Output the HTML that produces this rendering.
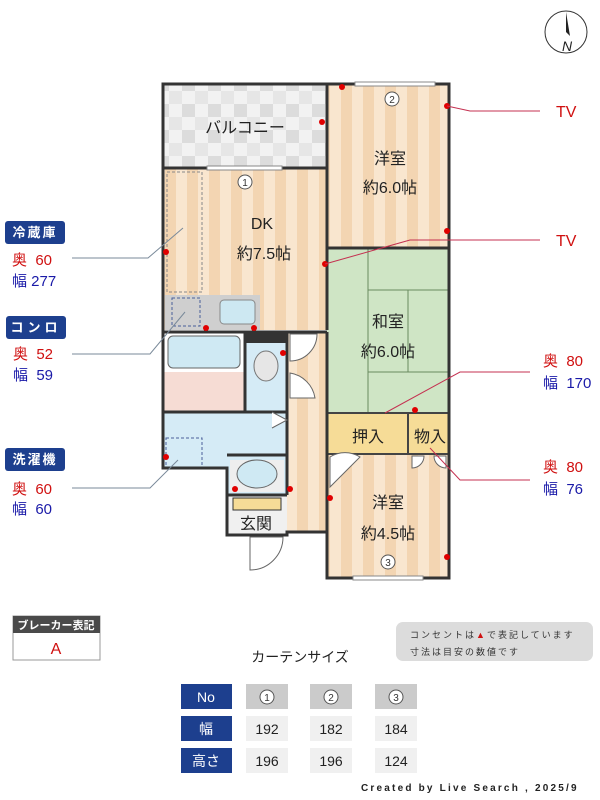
<!DOCTYPE html>
<html><head><meta charset="utf-8"><style>
body{margin:0;background:#fff;width:600px;height:800px;overflow:hidden}
svg{display:block}
text{font-family:"Liberation Sans","Noto Sans CJK JP",sans-serif}
</style></head><body>
<svg width="600" height="800" viewBox="0 0 600 800" xmlns="http://www.w3.org/2000/svg">
<defs>
<pattern id="wood" width="22" height="10" patternUnits="userSpaceOnUse">
<rect width="22" height="10" fill="#f9e6cf"/><rect x="11" width="11" height="10" fill="#f3d5b2"/>
</pattern>
<pattern id="tile" width="26" height="26" patternUnits="userSpaceOnUse">
<rect width="26" height="26" fill="#f2f2f2"/><rect width="13" height="13" fill="#dcdcdc"/><rect x="13" y="13" width="13" height="13" fill="#e6e6e6"/>
</pattern>
</defs>
<circle cx="566" cy="32" r="21" fill="#fff" stroke="#333" stroke-width="1"/>
<path d="M566 12 L570 36 L566 32 Z" fill="#222"/>
<text x="562" y="51" font-size="14" font-style="italic" fill="#222">N</text>

<rect x="163" y="84" width="164" height="84" fill="url(#tile)"/>
<rect x="327" y="84" width="122" height="164" fill="url(#wood)"/>
<rect x="163" y="168" width="164" height="162" fill="url(#wood)"/>
<rect x="327" y="248" width="122" height="165" fill="#cfe5c5"/>
<g stroke="#6a8a60" stroke-width="1" fill="none">
<line x1="368" y1="248" x2="368" y2="413"/><line x1="368" y1="290" x2="449" y2="290"/>
<line x1="368" y1="372" x2="449" y2="372"/><line x1="408" y1="290" x2="408" y2="372"/>
</g>
<rect x="287" y="332" width="40" height="200" fill="url(#wood)"/>
<rect x="327" y="454" width="122" height="124" fill="url(#wood)"/>
<rect x="327" y="413" width="81" height="41" fill="#f6dc97" stroke="#444" stroke-width="2"/>
<rect x="408" y="413" width="41" height="41" fill="#f6dc97" stroke="#444" stroke-width="2"/>
<rect x="165" y="295" width="95" height="35" fill="#cfcfcf"/>
<rect x="220" y="300" width="35" height="24" rx="4" fill="#cde8f2" stroke="#888"/>
<rect x="172" y="298" width="28" height="28" fill="none" stroke="#4a5f9a" stroke-dasharray="3,2"/>
<rect x="167" y="172" width="35" height="120" fill="none" stroke="#888" stroke-dasharray="3,2"/>
<rect x="163" y="332" width="82" height="40" fill="#fff"/>
<rect x="168" y="336" width="72" height="32" rx="5" fill="#cfe9f3" stroke="#666"/>
<rect x="163" y="372" width="82" height="40" fill="#f6dcd4"/>
<rect x="245" y="332" width="42" height="80" fill="#d5ebf6"/>
<rect x="245" y="332" width="42" height="11" fill="#333"/>
<ellipse cx="266" cy="366" rx="12" ry="15" fill="#e6e6e6" stroke="#777"/>
<rect x="163" y="412" width="124" height="56" fill="#d5ebf6"/>
<rect x="227" y="455" width="60" height="40" fill="#d5ebf6"/>
<rect x="230" y="460" width="54" height="32" fill="#eee"/>
<ellipse cx="257" cy="474" rx="20" ry="14" fill="#cfe9f3" stroke="#666"/>
<rect x="166" y="438" width="36" height="30" fill="none" stroke="#4a5f9a" stroke-dasharray="3,2"/>
<rect x="227" y="495" width="60" height="40" fill="#f0f0f0"/>
<rect x="233" y="498" width="48" height="12" fill="#f6dc97" stroke="#333"/>
<g stroke="#333" stroke-width="3" fill="none">
<path d="M163 84 H449 V578 H327 V532 H287 V535 H227 V468 H163 Z"/>
<line x1="163" y1="168" x2="327" y2="168"/>
<line x1="327" y1="84" x2="327" y2="330"/>
<line x1="327" y1="248" x2="449" y2="248"/>
<line x1="163" y1="332" x2="327" y2="332"/>
<line x1="245" y1="332" x2="245" y2="412"/>
<line x1="287" y1="332" x2="287" y2="495"/>
<line x1="163" y1="412" x2="287" y2="412"/>
<line x1="327" y1="332" x2="327" y2="532"/>
<line x1="227" y1="495" x2="287" y2="495"/>
<line x1="227" y1="455" x2="287" y2="455"/>
</g>
<g fill="#fff" stroke="#888"><rect x="355" y="82" width="80" height="4"/><rect x="207" y="166" width="75" height="4"/><rect x="353" y="576" width="70" height="4"/></g>
<g fill="#fff" stroke="#666">
<path d="M290 334 L317 334 A27 27 0 0 1 290 361 Z"/>
<path d="M290 373 A30 30 0 0 1 315 398 L290 398 Z"/>
<path d="M272 412 L287 420 L272 428"/>
<path d="M330 457 A28 28 0 0 1 360 457 L330 487 Z"/>
<path d="M250 537 L250 570 A33 33 0 0 0 283 537 Z"/>
<path d="M412 456 L412 468 A12 12 0 0 0 424 456 Z"/><path d="M446 456 L446 468 A12 12 0 0 1 434 456 Z"/>
</g>
<g fill="#e00000">
<circle cx="342" cy="87" r="3"/><circle cx="322" cy="122" r="3"/><circle cx="447" cy="106" r="3"/><circle cx="447" cy="231" r="3"/>
<circle cx="166" cy="252" r="3"/><circle cx="325" cy="264" r="3"/><circle cx="206" cy="328" r="3"/><circle cx="254" cy="328" r="3"/>
<circle cx="283" cy="353" r="3"/><circle cx="166" cy="457" r="3"/><circle cx="235" cy="489" r="3"/><circle cx="290" cy="489" r="3"/>
<circle cx="415" cy="410" r="3"/><circle cx="330" cy="498" r="3"/><circle cx="447" cy="557" r="3"/>
</g>
<g font-size="16" fill="#222" text-anchor="middle">
<text x="245" y="133">バルコニー</text>
<text x="390" y="164">洋室</text><text x="390" y="193">約6.0帖</text>
<text x="262" y="229">DK</text><text x="264" y="259">約7.5帖</text>
<text x="388" y="327">和室</text><text x="388" y="357">約6.0帖</text>
<text x="368" y="442">押入</text><text x="430" y="442">物入</text>
<text x="388" y="508">洋室</text><text x="388" y="539">約4.5帖</text>
<text x="256" y="529">玄関</text>
</g>
<g fill="#fff" stroke="#555">
<circle cx="392" cy="99" r="7"/><circle cx="245" cy="182" r="7"/><circle cx="388" cy="562" r="7"/>
</g>
<g font-size="10" fill="#333" text-anchor="middle"><text x="392" y="103">2</text><text x="245" y="186">1</text><text x="388" y="566">3</text></g>

<g stroke="#7a8a9a" fill="none" stroke-width="1">
<path d="M72 258 H148 L183 228"/><path d="M72 354 H150 L185 312"/><path d="M72 488 H150 L178 460"/>
</g>
<g stroke="#c43050" fill="none" stroke-width="1">
<path d="M447 106 L470 111 H540"/><path d="M325 264 L410 240 H540"/>
<path d="M385 413 L460 372 H530"/><path d="M430 448 L460 480 H530"/>
</g>
<g font-size="16" fill="#d01010"><text x="556" y="117">TV</text><text x="556" y="246">TV</text></g>
<g font-size="15">
<text x="543" y="366" fill="#d01010">奥 &#160;80</text><text x="543" y="388" fill="#1a1aa8">幅 &#160;170</text>
<text x="543" y="472" fill="#d01010">奥 &#160;80</text><text x="543" y="494" fill="#1a1aa8">幅 &#160;76</text>
</g>
<g fill="#1d3f8e"><rect x="5" y="221" width="60" height="23" rx="3"/><rect x="6" y="316" width="60" height="23" rx="3"/><rect x="5" y="448" width="60" height="23" rx="3"/></g>
<g fill="#fff" font-size="13" font-weight="bold" text-anchor="middle"><text x="35" y="237" letter-spacing="2">冷蔵庫</text><text x="36" y="332" letter-spacing="4">コンロ</text><text x="35" y="464" letter-spacing="2">洗濯機</text></g>
<g font-size="15">
<text x="12" y="265" fill="#d01010">奥 &#160;60</text><text x="12" y="286" fill="#1a1aa8">幅 277</text>
<text x="13" y="359" fill="#d01010">奥 &#160;52</text><text x="13" y="380" fill="#1a1aa8">幅 &#160;59</text>
<text x="12" y="494" fill="#d01010">奥 &#160;60</text><text x="12" y="514" fill="#1a1aa8">幅 &#160;60</text>
</g>

<rect x="13" y="616" width="87" height="44" fill="#fff" stroke="#999"/>
<rect x="13" y="616" width="87" height="17" fill="#4a4a4a"/>
<text x="56" y="629" font-size="11" fill="#fff" text-anchor="middle" font-weight="bold">ブレーカー表記</text>
<text x="56" y="654" font-size="16" fill="#d01010" text-anchor="middle">A</text>
<rect x="396" y="622" width="197" height="39" rx="7" fill="#dcdcdc"/>
<text x="410" y="638" font-size="9" fill="#333" letter-spacing="2">コンセントは<tspan fill="#d01010">▲</tspan>で表記しています</text>
<text x="410" y="655" font-size="9" fill="#333" letter-spacing="2">寸法は目安の数値です</text>
<text x="300" y="662" font-size="14" fill="#222" text-anchor="middle">カーテンサイズ</text>
<g fill="#1d3f8e"><rect x="181" y="684" width="51" height="25"/><rect x="181" y="716" width="51" height="25"/><rect x="181" y="748" width="51" height="25"/></g>
<g fill="#fff" font-size="14" text-anchor="middle"><text x="206" y="702">No</text><text x="206" y="734">幅</text><text x="206" y="766">高さ</text></g>
<g fill="#cbcbcb"><rect x="246" y="684" width="42" height="25"/><rect x="310" y="684" width="42" height="25"/><rect x="375" y="684" width="42" height="25"/></g>
<g fill="#f0f0f0"><rect x="246" y="716" width="42" height="25"/><rect x="310" y="716" width="42" height="25"/><rect x="375" y="716" width="42" height="25"/><rect x="246" y="748" width="42" height="25"/><rect x="310" y="748" width="42" height="25"/><rect x="375" y="748" width="42" height="25"/></g>
<g fill="#fff" stroke="#555"><circle cx="267" cy="697" r="7"/><circle cx="331" cy="697" r="7"/><circle cx="396" cy="697" r="7"/></g>
<g font-size="10" fill="#333" text-anchor="middle"><text x="267" y="701">1</text><text x="331" y="701">2</text><text x="396" y="701">3</text></g>
<g font-size="14" fill="#222" text-anchor="middle">
<text x="267" y="734">192</text><text x="331" y="734">182</text><text x="396" y="734">184</text>
<text x="267" y="766">196</text><text x="331" y="766">196</text><text x="396" y="766">124</text>
</g>
<text x="361" y="791" font-size="10" fill="#222" font-weight="bold" font-family="Liberation Mono, monospace" letter-spacing="2.2">Created by Live Search , 2025/9</text>
</svg>
</body></html>
